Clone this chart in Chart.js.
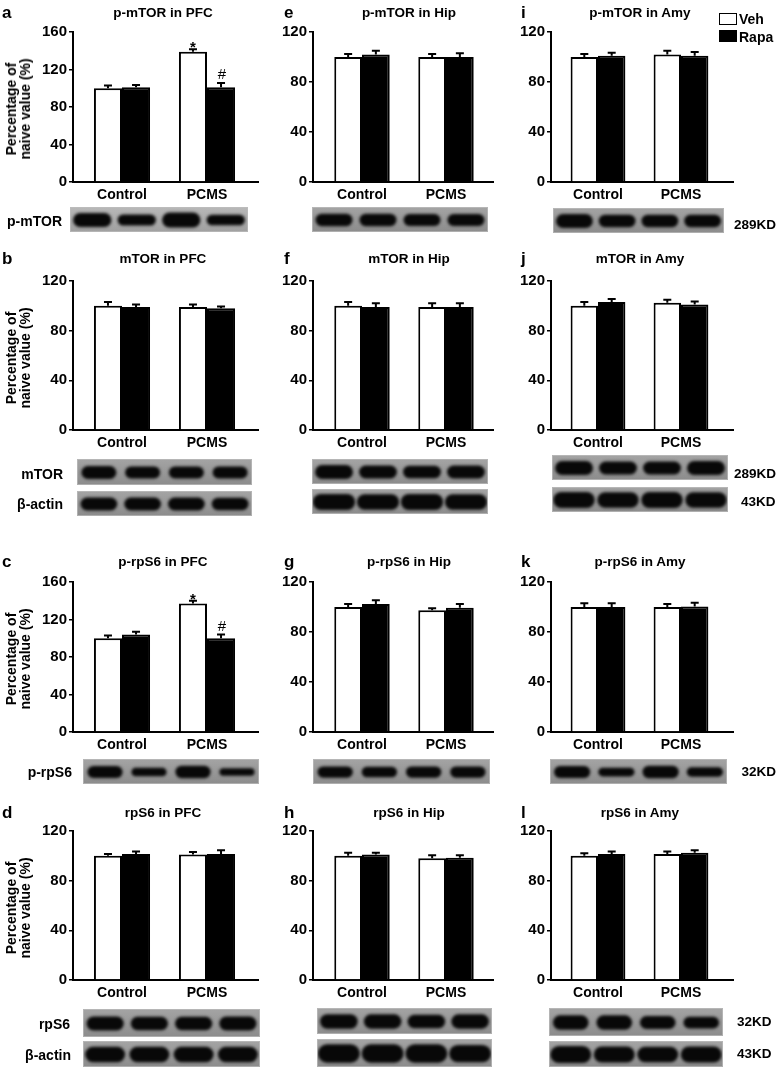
<!DOCTYPE html>
<html><head><meta charset="utf-8">
<script src="https://cdn.jsdelivr.net/npm/chart.js@4.4.1/dist/chart.umd.min.js"></script>
<style>
html,body{margin:0;padding:0;background:#fff}
body{width:778px;height:1068px;position:relative;overflow:hidden;font-family:"Liberation Sans",Arial,Helvetica,sans-serif;font-weight:bold;color:#000}
.txt{position:absolute;white-space:nowrap;line-height:1}
.ylab{position:absolute;font-size:14px;line-height:14px;text-align:center;white-space:nowrap;transform:translate(-50%,-50%) rotate(-90deg)}
canvas.panel{position:absolute}
#bg{position:absolute;left:0;top:0}
.box{position:absolute;box-sizing:border-box;border:1.5px solid #000}
</style></head><body>
<canvas id="bg" width="778" height="1068"></canvas>
<script>
// ---------------- DATA ----------------
const categories = ['Control', 'PCMS'];
const seriesNames = ['Veh', 'Rapa'];
const ticks160 = [0, 40, 80, 120, 160];
const ticks120 = [0, 40, 80, 120];

// a: p-mTOR in PFC
const veh_a = [100, 139], vehErr_a = [3, 2.5], rapa_a = [101, 101], rapaErr_a = [2.5, 4.5];
const sigVeh_a = ['', '*'], sigRapa_a = ['', '#'];
// b: mTOR in PFC
const veh_b = [100, 99], vehErr_b = [3, 2], rapa_b = [99, 98], rapaErr_b = [2, 1.5];
// c: p-rpS6 in PFC
const veh_c = [100, 137], vehErr_c = [3, 3], rapa_c = [104, 100], rapaErr_c = [3, 4];
const sigVeh_c = ['', '*'], sigRapa_c = ['', '#'];
// d: rpS6 in PFC
const veh_d = [100, 101], vehErr_d = [1.5, 2], rapa_d = [101.5, 101.5], rapaErr_d = [2, 3];
// e: p-mTOR in Hip
const veh_e = [100, 100], vehErr_e = [2.5, 2.5], rapa_e = [102, 100], rapaErr_e = [3, 3];
// f: mTOR in Hip
const veh_f = [100, 99], vehErr_f = [3, 3], rapa_f = [99, 99], rapaErr_f = [3, 3];
// g: p-rpS6 in Hip
const veh_g = [100, 97.5], vehErr_g = [2.5, 1.5], rapa_g = [102.5, 99.5], rapaErr_g = [3, 3];
// h: rpS6 in Hip
const veh_h = [100, 98], vehErr_h = [2.5, 2.5], rapa_h = [101, 98.5], rapaErr_h = [1.5, 2];
// i: p-mTOR in Amy
const veh_i = [100, 102], vehErr_i = [2.5, 3], rapa_i = [101, 101], rapaErr_i = [2.5, 3];
// j: mTOR in Amy
const veh_j = [100, 102.5], vehErr_j = [3, 2.5], rapa_j = [103, 101], rapaErr_j = [2.5, 2.5];
// k: p-rpS6 in Amy
const veh_k = [100, 100], vehErr_k = [3, 2.5], rapa_k = [100, 100.5], rapaErr_k = [3, 3];
// l: rpS6 in Amy
const veh_l = [100, 101.5], vehErr_l = [2, 2], rapa_l = [101.5, 102.5], rapaErr_l = [2, 2];

const FONT = '"Liberation Sans", Arial, Helvetica, sans-serif';
const none = ['', ''];

// ---------------- LAYOUT ----------------
const rows = [
  {top: 32, bottom: 182, titleY: 13},
  {top: 281, bottom: 430, titleY: 259},
  {top: 582, bottom: 732, titleY: 562},
  {top: 831, bottom: 980, titleY: 813}
];
const cols = [
  {axis: 73, end: 258, c0: 122, c1: 207, titleX: 163, letterX: 2},
  {axis: 313, end: 493, c0: 362, c1: 446, titleX: 409, letterX: 284},
  {axis: 551, end: 733, c0: 598, c1: 681, titleX: 640, letterX: 521}
];

const panels = [
  {L:'a', t:'p-mTOR in PFC', col:0,row:0, ticks:ticks160, veh:veh_a, ve:vehErr_a, rapa:rapa_a, re:rapaErr_a, sv:sigVeh_a, sr:sigRapa_a},
  {L:'b', t:'mTOR in PFC',   col:0,row:1, ticks:ticks120, veh:veh_b, ve:vehErr_b, rapa:rapa_b, re:rapaErr_b, sv:none, sr:none},
  {L:'c', t:'p-rpS6 in PFC', col:0,row:2, ticks:ticks160, veh:veh_c, ve:vehErr_c, rapa:rapa_c, re:rapaErr_c, sv:sigVeh_c, sr:sigRapa_c},
  {L:'d', t:'rpS6 in PFC',   col:0,row:3, ticks:ticks120, veh:veh_d, ve:vehErr_d, rapa:rapa_d, re:rapaErr_d, sv:none, sr:none},
  {L:'e', t:'p-mTOR in Hip', col:1,row:0, ticks:ticks120, veh:veh_e, ve:vehErr_e, rapa:rapa_e, re:rapaErr_e, sv:none, sr:none},
  {L:'f', t:'mTOR in Hip',   col:1,row:1, ticks:ticks120, veh:veh_f, ve:vehErr_f, rapa:rapa_f, re:rapaErr_f, sv:none, sr:none},
  {L:'g', t:'p-rpS6 in Hip', col:1,row:2, ticks:ticks120, veh:veh_g, ve:vehErr_g, rapa:rapa_g, re:rapaErr_g, sv:none, sr:none},
  {L:'h', t:'rpS6 in Hip',   col:1,row:3, ticks:ticks120, veh:veh_h, ve:vehErr_h, rapa:rapa_h, re:rapaErr_h, sv:none, sr:none},
  {L:'i', t:'p-mTOR in Amy', col:2,row:0, ticks:ticks120, veh:veh_i, ve:vehErr_i, rapa:rapa_i, re:rapaErr_i, sv:none, sr:none},
  {L:'j', t:'mTOR in Amy',   col:2,row:1, ticks:ticks120, veh:veh_j, ve:vehErr_j, rapa:rapa_j, re:rapaErr_j, sv:none, sr:none},
  {L:'k', t:'p-rpS6 in Amy', col:2,row:2, ticks:ticks120, veh:veh_k, ve:vehErr_k, rapa:rapa_k, re:rapaErr_k, sv:none, sr:none},
  {L:'l', t:'rpS6 in Amy',   col:2,row:3, ticks:ticks120, veh:veh_l, ve:vehErr_l, rapa:rapa_l, re:rapaErr_l, sv:none, sr:none}
];

// Western blot strips (decorative images): band heights per lane
const blots = [
  {x:70, y:207, w:178, h:25, b:[.56,.44,.6,.42], bw:.86, bg:['#b8b8b8','#a0a0a0']},
  {x:77, y:459, w:175, h:26, b:[.5,.46,.46,.46], bw:.8},
  {x:77, y:491, w:175, h:25, b:[.52,.52,.52,.5], bw:.84},
  {x:83, y:759, w:176, h:25, b:[.48,.34,.5,.3], bw:.8},
  {x:83, y:1009, w:177, h:28, b:[.5,.48,.48,.5], bw:.84},
  {x:83, y:1041, w:177, h:26, b:[.6,.6,.6,.6], bw:.9},
  {x:312, y:207, w:176, h:25, b:[.5,.5,.48,.48], bw:.84},
  {x:312, y:459, w:176, h:25, b:[.56,.52,.5,.52], bw:.86},
  {x:312, y:489, w:176, h:25, b:[.64,.62,.64,.62], bw:.96},
  {x:313, y:759, w:177, h:25, b:[.45,.42,.45,.45], bw:.8},
  {x:317, y:1008, w:175, h:26, b:[.56,.55,.52,.55], bw:.86},
  {x:317, y:1039, w:175, h:28, b:[.66,.66,.66,.62], bw:.96},
  {x:553, y:208, w:171, h:25, b:[.56,.5,.5,.5], bw:.86},
  {x:552, y:455, w:176, h:25, b:[.56,.52,.52,.56], bw:.86},
  {x:552, y:487, w:176, h:25, b:[.64,.62,.64,.62], bw:.94},
  {x:550, y:759, w:177, h:25, b:[.48,.35,.5,.38], bw:.82},
  {x:549, y:1008, w:174, h:28, b:[.52,.52,.46,.42], bw:.82},
  {x:549, y:1041, w:174, h:26, b:[.66,.62,.6,.62], bw:.94}
];

// ---------------- HELPERS ----------------
function addText(txt, x, y, size, align) {
  const d = document.createElement('div');
  d.className = 'txt';
  d.textContent = txt;
  d.style.left = x + 'px';
  d.style.top = y + 'px';
  d.style.fontSize = size + 'px';
  d.style.transform = align === 'c' ? 'translate(-50%,-50%)' : align === 'r' ? 'translate(-100%,-50%)' : 'translate(0,-50%)';
  document.body.appendChild(d);
  return d;
}

function drawBlot(ctx, s) {
  ctx.save();
  ctx.beginPath(); ctx.rect(s.x, s.y, s.w, s.h); ctx.clip();
  const g = ctx.createLinearGradient(0, s.y, 0, s.y + s.h);
  const bg = s.bg || ['#a4a4a4', '#8c8c8c'];
  g.addColorStop(0, bg[0]); g.addColorStop(1, bg[1]);
  ctx.fillStyle = g; ctx.fillRect(s.x, s.y, s.w, s.h);
  const lane = s.w / 4;
  s.b.forEach((bh, i) => {
    const cx = s.x + lane * (i + 0.5), cy = s.y + s.h * 0.52;
    const w = lane * s.bw, h = s.h * bh;
    ctx.save();
    ctx.filter = 'blur(1.6px)';
    ctx.fillStyle = '#080808';
    ctx.beginPath(); ctx.roundRect(cx - w / 2, cy - h / 2, w, h, h / 2); ctx.fill();
    ctx.restore();
  });
  ctx.restore();
  ctx.strokeStyle = 'rgba(190,190,190,0.7)'; ctx.lineWidth = 1;
  ctx.strokeRect(s.x + 0.5, s.y + 0.5, s.w - 1, s.h - 1);
}

function errPlugin(p) {
  return {
    id: 'errbars',
    afterDatasetsDraw(chart) {
      const ctx = chart.ctx, ys = chart.scales.y;
      const errs = [p.ve, p.re], sigs = [p.sv, p.sr];
      chart.data.datasets.forEach((ds, di) => {
        const meta = chart.getDatasetMeta(di);
        meta.data.forEach((bar, i) => {
          const v = ds.data[i].y, e = errs[di][i];
          const yTop = ys.getPixelForValue(v), yE = ys.getPixelForValue(v + e);
          ctx.save();
          ctx.strokeStyle = '#000'; ctx.lineWidth = 2;
          ctx.beginPath();
          ctx.moveTo(bar.x, yTop); ctx.lineTo(bar.x, yE);
          ctx.moveTo(bar.x - 4, yE); ctx.lineTo(bar.x + 4, yE);
          ctx.stroke();
          const s = sigs[di][i];
          if (s) {
            ctx.fillStyle = '#000';
            ctx.textAlign = 'center'; ctx.textBaseline = 'alphabetic';
            ctx.font = (s === '*' ? 'bold 15px ' : '15px ') + FONT;
            ctx.fillText(s, bar.x + (s === '#' ? 1 : 0), s === '*' ? yE + 3 : yE - 4);
          }
          ctx.restore();
        });
      });
    }
  };
}

function makePanel(p) {
  const col = cols[p.col], row = rows[p.row];
  const padL = 48, padT = 14, padR = 6, padB = 28;
  const W = col.end - col.axis + padL + padR;
  const H = row.bottom - row.top + padT + padB;
  const cv = document.createElement('canvas');
  cv.className = 'panel'; cv.width = W; cv.height = H;
  cv.style.left = (col.axis - padL) + 'px';
  cv.style.top = (row.top - padT) + 'px';
  document.body.appendChild(cv);
  const span = col.c1 - col.c0;
  const xmin = -(col.c0 - col.axis) / span, xmax = 1 + (col.end - col.c1) / span;
  const yMax = p.ticks[p.ticks.length - 1];
  new Chart(cv.getContext('2d'), {
    type: 'bar',
    data: {
      datasets: [
        {label: seriesNames[0], data: p.veh.map((v, i) => ({x: i, y: v})), backgroundColor: '#fff', borderColor: '#000', borderWidth: 2, categoryPercentage: 0.66, barPercentage: 1},
        {label: seriesNames[1], data: p.rapa.map((v, i) => ({x: i, y: v})), backgroundColor: '#000', borderColor: '#000', borderWidth: 2, categoryPercentage: 0.66, barPercentage: 1}
      ]
    },
    options: {
      responsive: false, animation: false, devicePixelRatio: 1,
      layout: {padding: {top: padT, right: padR, left: 0, bottom: 0}},
      plugins: {legend: {display: false}, tooltip: {enabled: false}, title: {display: false}},
      scales: {
        x: {
          type: 'linear', min: xmin, max: xmax, offset: false,
          afterBuildTicks(s) { s.ticks = categories.map((c, i) => ({value: i})); },
          afterFit(s) { s.height = padB; },
          grid: {display: false, drawTicks: false},
          border: {display: true, color: '#000', width: 2},
          ticks: {callback: (v) => categories[v], color: '#000', font: {family: FONT, size: 14, weight: 'bold'}, padding: 5, maxRotation: 0, autoSkip: false}
        },
        y: {
          min: 0, max: yMax,
          afterBuildTicks(s) { s.ticks = p.ticks.map(v => ({value: v})); },
          afterFit(s) { s.width = padL; },
          grid: {drawOnChartArea: false, drawTicks: true, tickLength: 4, color: '#000', lineWidth: 1.5},
          border: {display: true, color: '#000', width: 2},
          ticks: {color: '#000', font: {family: FONT, size: 15, weight: 'bold'}, padding: 2}
        }
      }
    },
    plugins: [errPlugin(p)]
  });
  // title and panel letter
  addText(p.t, col.titleX, row.titleY, 13.5, 'c');
  addText(p.L, col.letterX, row.titleY - 1, 17, 'l');
  if (p.col === 0) {
    const d = document.createElement('div');
    d.className = 'ylab';
    d.innerHTML = 'Percentage of<br>naive value (%)';
    d.style.left = '18px';
    d.style.top = ((row.top + row.bottom) / 2 + 2) + 'px';
    document.body.appendChild(d);
  }
}

// ---------------- DRAW ----------------
const bctx = document.getElementById('bg').getContext('2d');
blots.forEach(s => drawBlot(bctx, s));
panels.forEach(makePanel);

// blot labels
addText('p-mTOR', 62, 221, 14, 'r');
addText('mTOR', 63, 474, 14, 'r');
addText('β-actin', 63, 504, 14, 'r');
addText('p-rpS6', 72, 772, 14, 'r');
addText('rpS6', 70, 1024, 14, 'r');
addText('β-actin', 71, 1055, 14, 'r');
addText('289KD', 734, 225, 13.5, 'l');
addText('289KD', 734, 474, 13.5, 'l');
addText('43KD', 741, 502, 13.5, 'l');
addText('32KD', 776, 772, 13.5, 'r');
addText('32KD', 737, 1022, 13.5, 'l');
addText('43KD', 737, 1054, 13.5, 'l');

// legend
(function(){
  const b1 = document.createElement('div'); b1.className = 'box';
  Object.assign(b1.style, {left: '719px', top: '13px', width: '18px', height: '12px', background: '#fff'});
  const b2 = document.createElement('div'); b2.className = 'box';
  Object.assign(b2.style, {left: '719px', top: '30px', width: '18px', height: '12px', background: '#000'});
  document.body.appendChild(b1); document.body.appendChild(b2);
  addText(seriesNames[0], 739, 19, 14, 'l');
  addText(seriesNames[1], 739, 36.5, 14, 'l');
})();
</script></body></html>
